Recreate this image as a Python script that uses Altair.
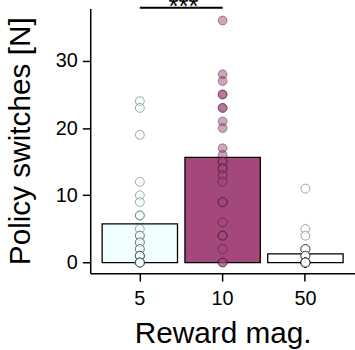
import altair as alt
import pandas as pd

groups = ["5", "10", "50"]
bar_means = [5.75, 15.65, 1.3]
bar_fills = ["#F0FFFF", "#A4477A", "#FFFFFF"]

pts_5 = [24, 23, 19, 12, 10, 9, 7, 7, 5, 4, 4, 3, 3, 2, 2, 1, 1, 1, 1, 0, 0, 0, 0, 0]
pts_10 = [36, 28, 27, 25, 25, 23, 23, 21, 20, 17, 16, 15, 15, 14, 14, 13, 12, 9, 9, 6, 4, 4, 2, 0, 0]
pts_50 = [11, 5, 4, 2, 2, 2, 2, 1, 1, 1, 1] + [0] * 13

sig_from, sig_to, sig_level, sig_text = "5", "10", 37.9, "***"

bars = pd.DataFrame({"g": groups, "mean": bar_means, "zero": [0] * 3})
pts = pd.DataFrame({
    "g": ["5"] * len(pts_5) + ["10"] * len(pts_10) + ["50"] * len(pts_50),
    "v": pts_5 + pts_10 + pts_50,
})
sig = pd.DataFrame({"a": [sig_from], "b": [sig_to], "y": [sig_level], "t": [sig_text]})

FONT = "Liberation Sans"
xs = alt.Scale(domain=groups, paddingInner=0.09, paddingOuter=0.144)
ys = alt.Scale(domain=[-1.58, 37.8], nice=False, zero=False)
fill_scale = alt.Scale(domain=groups, range=bar_fills)

xax = alt.Axis(title="Reward mag.", labelAngle=0, labelFontSize=20, titleFontSize=30,
               labelPadding=8, titlePadding=10, tickSize=8)
yax = alt.Axis(title="Policy switches [N]", values=[0, 10, 20, 30], labelFontSize=20,
               titleFontSize=30, labelPadding=5, titlePadding=20, tickSize=8, grid=False)

bar = alt.Chart(bars).mark_bar(stroke="black", strokeWidth=1.3, opacity=1).encode(
    x=alt.X("g:N", scale=xs, axis=xax, sort=groups),
    y=alt.Y("mean:Q", scale=ys, axis=yax),
    y2="zero:Q",
    fill=alt.Fill("g:N", scale=fill_scale, legend=None),
)

points = alt.Chart(pts).mark_point(filled=True, shape="circle", size=80, fillOpacity=0.5,
                                    stroke="black", strokeOpacity=0.35, strokeWidth=1).encode(
    x=alt.X("g:N", scale=xs, sort=groups),
    y=alt.Y("v:Q", scale=ys),
    fill=alt.Fill("g:N", scale=fill_scale, legend=None),
)

rule = alt.Chart(sig).mark_rule(color="black", strokeWidth=1.8).encode(
    x=alt.X("a:N", scale=xs, sort=groups),
    x2="b:N",
    y=alt.Y("y:Q", scale=ys),
)

txt = alt.Chart(sig).mark_text(font=FONT, fontSize=26, dy=7, baseline="alphabetic",
                               color="black").encode(
    x=alt.value(94),
    y=alt.Y("y:Q", scale=ys),
    text="t:N",
)

chart = alt.layer(bar, points, rule, txt).properties(
    width=267, height=267,
    autosize=alt.AutoSizeParams(type="none"),
    padding={"left": 91, "top": 7, "right": 0, "bottom": 76},
).configure_view(stroke=None).configure_axis(
    labelFont=FONT, titleFont=FONT, labelColor="black", titleColor="black",
    domainColor="black", tickColor="black", domainWidth=1.5, tickWidth=1.5,
    titleFontWeight="normal",
)

chart.save("out.html", embed_options={"renderer": "svg", "actions": False})
